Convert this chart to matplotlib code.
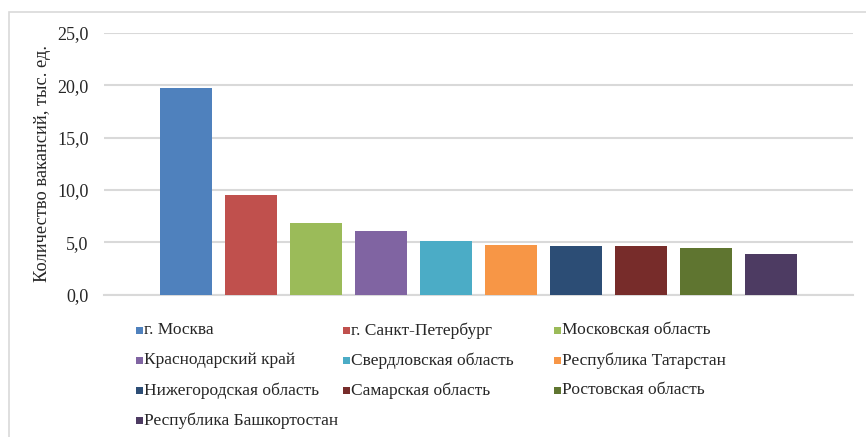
import matplotlib.pyplot as plt
from matplotlib.patches import Rectangle
from matplotlib.ticker import FuncFormatter

plt.rcParams['font.family'] = ['Liberation Serif', 'DejaVu Serif']

regions = ['г. Москва', 'г. Санкт-Петербург', 'Московская область',
           'Краснодарский край', 'Свердловская область', 'Республика Татарстан',
           'Нижегородская область', 'Самарская область', 'Ростовская область',
           'Республика Башкортостан']
vacancies = [19.7, 9.5, 6.8, 6.1, 5.1, 4.7, 4.6, 4.6, 4.5, 3.9]
colors = ['#4F81BD', '#C0504D', '#9BBB59', '#8064A2', '#4BACC6',
          '#F79646', '#2C4D75', '#772C2A', '#5F7530', '#4D3B62']

text_color = '#262626'
grid_color = '#D9D9D9'

fig = plt.figure(figsize=(8.66, 4.37), dpi=100)
W, H = 866, 437

# chart area frame (partly cut at right and bottom)
fig.patches.append(Rectangle((9 / W, -0.1), 1.2, (H - 12) / H + 0.1,
                             transform=fig.transFigure, fill=False,
                             edgecolor=grid_color, linewidth=1.2))

ax = fig.add_axes([104 / W, 1 - 294.7 / H, (853 - 104) / W, (294.7 - 32.7) / H])

x = range(len(vacancies))
ax.bar(x, vacancies, width=0.8, color=colors, zorder=3)

ax.set_ylim(0, 25)
ax.set_xlim(-1.26, len(vacancies) - 1 + 1.26)
ax.set_yticks([0, 5, 10, 15, 20, 25])
ax.yaxis.set_major_formatter(FuncFormatter(lambda v, p: f'{v:.1f}'.replace('.', ',')))
ax.set_xticks([])
ax.tick_params(axis='y', length=0, pad=11, labelsize=13, labelcolor=text_color)
ax.grid(axis='y', color=grid_color, linewidth=1.5, zorder=0)
for s in ['top', 'right', 'left']:
    ax.spines[s].set_visible(False)
ax.spines['bottom'].set_color(grid_color)
ax.spines['bottom'].set_linewidth(1.5)

fig.text(43 / W, 1 - 164 / H, 'Количество вакансий, тыс. ед.', fontsize=13.2,
         color=text_color, rotation=90, ha='center', va='center')

# legend: three equal columns, filled row by row
col_x = [139, 346, 557]
row_y = [330.5, 360.5, 390.5, 420.5]
for i, (name, c) in enumerate(zip(regions, colors)):
    cx = col_x[i % 3]
    cy = row_y[i // 3]
    fig.patches.append(Rectangle(((cx - 3.5) / W, 1 - (cy + 3.5) / H), 7 / W, 7 / H,
                                 transform=fig.transFigure, facecolor=c, edgecolor='none'))
    fig.text((cx + 5) / W, 1 - cy / H, name, fontsize=12.5, color=text_color,
             va='center', ha='left')

fig.savefig('out.png', dpi=100)
